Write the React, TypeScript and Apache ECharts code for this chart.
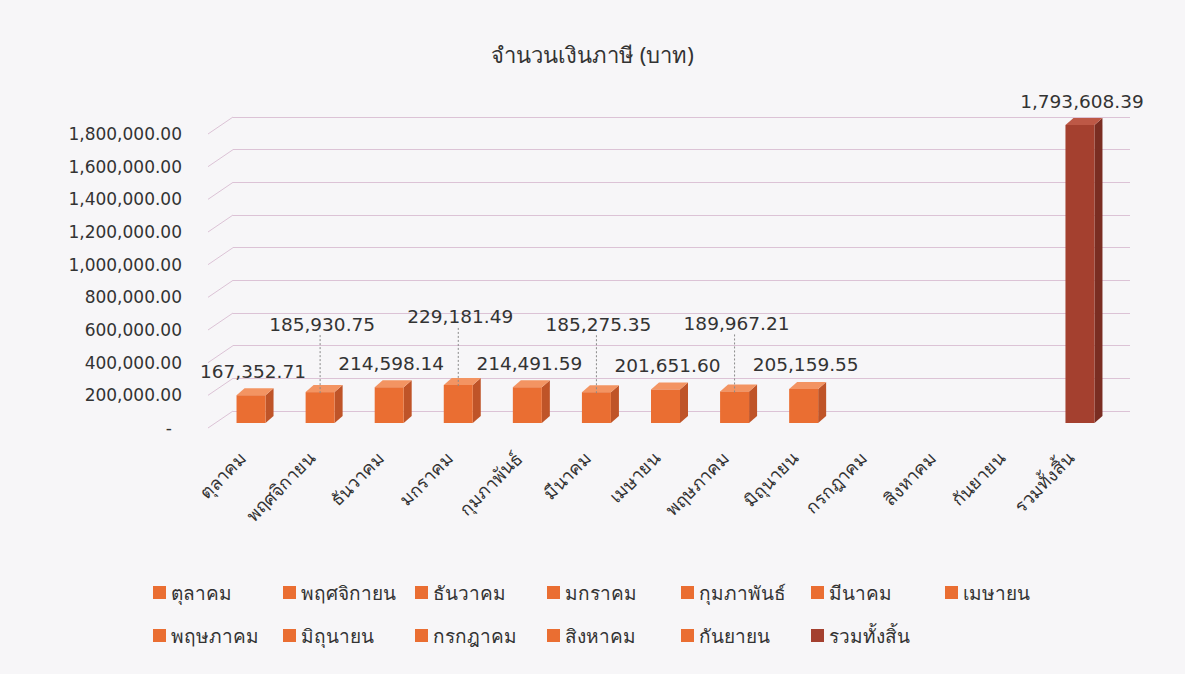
import React, { useEffect, useRef } from "react";
import * as echarts from "echarts";

const categories = [
  "ตุลาคม",
  "พฤศจิกายน",
  "ธันวาคม",
  "มกราคม",
  "กุมภาพันธ์",
  "มีนาคม",
  "เมษายน",
  "พฤษภาคม",
  "มิถุนายน",
  "กรกฎาคม",
  "สิงหาคม",
  "กันยายน",
  "รวมทั้งสิ้น",
];
const values: (number | null)[] = [
  167352.71, 185930.75, 214598.14, 229181.49, 214491.59, 185275.35, 201651.6,
  189967.21, 205159.55, null, null, null, 1793608.39,
];
const yTicks = [0, 200000, 400000, 600000, 800000, 1000000, 1200000, 1400000, 1600000, 1800000];
const titleText = "จำนวนเงินภาษี (บาท)";

const FONT = "'Noto Sans', 'DejaVu Sans', 'Noto Sans CJK SC', sans-serif";
const NUMFONT = "'DejaVu Sans', sans-serif";

const monthColors = { front: "#EA6E32", side: "#BF5428", top: "#F39462" };
const totalColors = { front: "#A4402F", side: "#7A2D22", top: "#BD5846" };

// front plane (axis labels), back wall and bar plane
const FRONT_LEFT = 208;
const FRONT_TOP = 134;
const PLOT_W = 897;
const PLOT_H = 294;
const WALL_DX = 25;
const WALL_DY = -17;
const BAR_LEFT = 216.5;
const BAR_TOP = 124;
const BAR_H = 299;

const legendCols = [153, 283, 415, 547, 681, 811, 945];
const legendRows = [583, 626];

function fmt(v: number) {
  return v.toLocaleString("en-US", { minimumFractionDigits: 2, maximumFractionDigits: 2 });
}

export default function App() {
  const ref = useRef<HTMLDivElement>(null);

  useEffect(() => {
    if (!ref.current) return;
    const chart = echarts.init(ref.current, undefined, { renderer: "svg" });

    const barSeries = categories.map((name, i) => {
      const isTotal = i === categories.length - 1;
      const c = isTotal ? totalColors : monthColors;
      const v = values[i];
      return {
        type: "custom",
        name,
        xAxisIndex: 2,
        yAxisIndex: 2,
        z: 10,
        itemStyle: { color: c.front },
        data: v == null ? [] : [[i, v]],
        renderItem: (params: any, api: any) => {
          const idx = api.value(0);
          const val = api.value(1);
          const top = api.coord([idx, val]);
          const base = api.coord([idx, 0]);
          const w = 29;
          const ox = 8;
          const oy = -7;
          const cx = top[0];
          const x0 = cx - w / 2;
          const x1 = x0 + w;
          const yT = top[1];
          const yB = base[1];
          const stagger = idx % 2 === 1;
          const labelY = stagger ? yT - 68 : yT - 24;
          const children: any[] = [
            {
              type: "polygon",
              shape: { points: [[x1, yT], [x1 + ox, yT + oy], [x1 + ox, yB + oy], [x1, yB]] },
              style: { fill: c.side },
            },
            {
              type: "polygon",
              shape: { points: [[x0, yT], [x0 + ox, yT + oy], [x1 + ox, yT + oy], [x1, yT]] },
              style: { fill: c.top },
            },
            {
              type: "rect",
              shape: { x: x0, y: yT, width: w, height: yB - yT },
              style: { fill: c.front },
            },
          ];
          if (stagger) {
            children.push({
              type: "line",
              shape: { x1: cx, y1: labelY + 11, x2: cx, y2: yT + 3 },
              style: { stroke: "#8a8a8a", lineWidth: 1, lineDash: [2, 2] },
            });
          }
          children.push({
            type: "text",
            style: {
              x: cx + 2,
              y: labelY,
              text: fmt(val),
              align: "center",
              verticalAlign: "middle",
              fill: "#333333",
              font: `18.5px ${NUMFONT}`,
            },
          });
          return { type: "group", children };
        },
      };
    });

    const diagSeries = {
      type: "custom",
      name: "_diag",
      xAxisIndex: 0,
      yAxisIndex: 0,
      z: 1,
      silent: true,
      data: yTicks.map((t) => [0, t]),
      renderItem: (params: any, api: any) => {
        const y = api.coord([0, api.value(1)])[1];
        const x = params.coordSys.x;
        return {
          type: "line",
          shape: { x1: x, y1: y, x2: x + WALL_DX, y2: y + WALL_DY },
          style: { stroke: "#dcc3d6", lineWidth: 1 },
        };
      },
    };

    const legends = categories.map((name, i) => {
      const row = i < 7 ? 0 : 1;
      const col = i < 7 ? i : i - 7;
      return {
        data: [name],
        left: legendCols[col],
        top: legendRows[row],
        itemWidth: 13,
        itemHeight: 13,
        icon: "rect",
        selectedMode: false,
        textStyle: { fontSize: 19, color: "#333333", fontFamily: FONT },
        padding: 0,
      };
    });

    const hiddenY = (gridIndex: number, top: boolean) => ({
      type: "value",
      gridIndex,
      min: 0,
      max: 1800000,
      interval: 200000,
      axisLine: { show: false },
      axisTick: { show: false },
      axisLabel: { show: false },
      splitLine: top
        ? { show: true, lineStyle: { color: "#dcc3d6", width: 1 } }
        : { show: false },
    });

    chart.setOption({
      animation: false,
      backgroundColor: "#f7f6f8",
      title: {
        text: titleText,
        left: "center",
        top: 38,
        textStyle: { fontSize: 22, fontWeight: "normal", color: "#333333", fontFamily: FONT },
      },
      legend: legends,
      grid: [
        { left: FRONT_LEFT, top: FRONT_TOP, width: PLOT_W, height: PLOT_H },
        { left: FRONT_LEFT + WALL_DX, top: FRONT_TOP + WALL_DY, width: PLOT_W, height: PLOT_H },
        { left: BAR_LEFT, top: BAR_TOP, width: PLOT_W + 1, height: BAR_H },
      ],
      xAxis: [
        {
          type: "category",
          gridIndex: 0,
          data: categories,
          boundaryGap: true,
          axisLine: { show: false },
          axisTick: { show: false },
          axisLabel: {
            interval: 0,
            rotate: 45,
            margin: 27,
            fontSize: 18,
            color: "#333333",
            fontFamily: FONT,
          },
        },
        { type: "category", gridIndex: 1, data: categories, show: false },
        { type: "category", gridIndex: 2, data: categories, show: false },
      ],
      yAxis: [
        {
          type: "value",
          gridIndex: 0,
          min: 0,
          max: 1800000,
          interval: 200000,
          splitLine: { show: false },
          axisLine: { show: false },
          axisTick: { show: false },
          axisLabel: {
            margin: 26,
            fontSize: 17,
            color: "#333333",
            fontFamily: NUMFONT,
            formatter: (v: number) => (v === 0 ? "{d|-}" : fmt(v)),
            rich: { d: { fontSize: 17, fontFamily: NUMFONT, color: "#333333", padding: [0, 10, 0, 0] } },
          },
        },
        hiddenY(1, true),
        hiddenY(2, false),
      ],
      series: [diagSeries, ...barSeries],
    });

    return () => chart.dispose();
  }, []);

  return (
    <div
      ref={ref}
      style={{ position: "fixed", left: 0, top: 0, width: 1185, height: 674 }}
    />
  );
}
